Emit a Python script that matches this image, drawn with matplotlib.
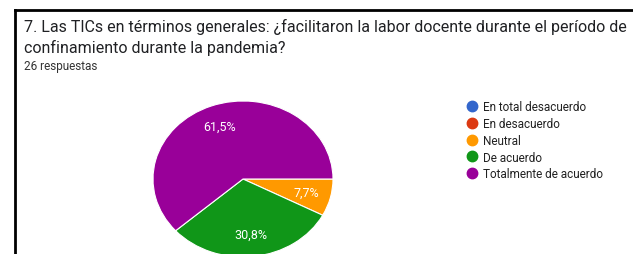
import matplotlib.pyplot as plt
from matplotlib.lines import Line2D

# data
categories = ['En total desacuerdo', 'En desacuerdo', 'Neutral', 'De acuerdo', 'Totalmente de acuerdo']
counts = [0, 0, 2, 8, 16]
colors = ['#3366cc', '#dc3912', '#ff9900', '#109618', '#990099']
title = '7. Las TICs en términos generales: ¿facilitaron la labor docente durante el período de\nconfinamiento durante la pandemia?'
subtitle = '26 respuestas'

plt.rcParams['font.family'] = ['Roboto', 'DejaVu Sans']

W, H = 633, 255
fig = plt.figure(figsize=(W / 100, H / 100), dpi=100)
fig.patch.set_facecolor('white')

# black frame (top and left edges visible)
fig.add_artist(Line2D([15 / W, 1], [1 - 11 / H, 1 - 11 / H], color='black', lw=2, transform=fig.transFigure))
fig.add_artist(Line2D([15 / W, 15 / W], [0, 1 - 11 / H], color='black', lw=2, transform=fig.transFigure))

fig.text(24 / W, 1 - 37.5 / H, title, fontsize=11.5, color='#202124', va='center', ha='left', linespacing=1.32)
fig.text(24 / W, 1 - 67 / H, subtitle, fontsize=8.5, color='#333333', va='center', ha='left')

# pie (slightly stretched horizontally like the screenshot)
cx, cy, rx, ry = 243, 180, 90, 78
ax = fig.add_axes([(cx - rx) / W, (H - cy - ry) / H, 2 * rx / W, 2 * ry / H])


def pct(p):
    if p < 1:
        return ''
    return ('%.1f%%' % p).replace('.', ',')


wedges, texts, autotexts = ax.pie(counts, colors=colors, startangle=0, counterclock=False,
                                  autopct=pct, pctdistance=0.72,
                                  wedgeprops=dict(edgecolor='white', linewidth=0.8),
                                  textprops=dict(color='white', fontsize=9))
ax.set_aspect('auto')
ax.set_xlim(-1, 1)
ax.set_ylim(-1, 1)
ax.axis('off')

handles = [Line2D([], [], marker='o', linestyle='', markersize=7.5, markerfacecolor=c, markeredgecolor=c) for c in colors]
fig.legend(handles, categories, loc='upper left', bbox_to_anchor=(460 / W, 1 - 95 / H), frameon=False,
           fontsize=8.5, labelspacing=0.33, handletextpad=0.35, handlelength=1.1, borderpad=0,
           labelcolor='#222222')

fig.savefig('out.png', dpi=100)
